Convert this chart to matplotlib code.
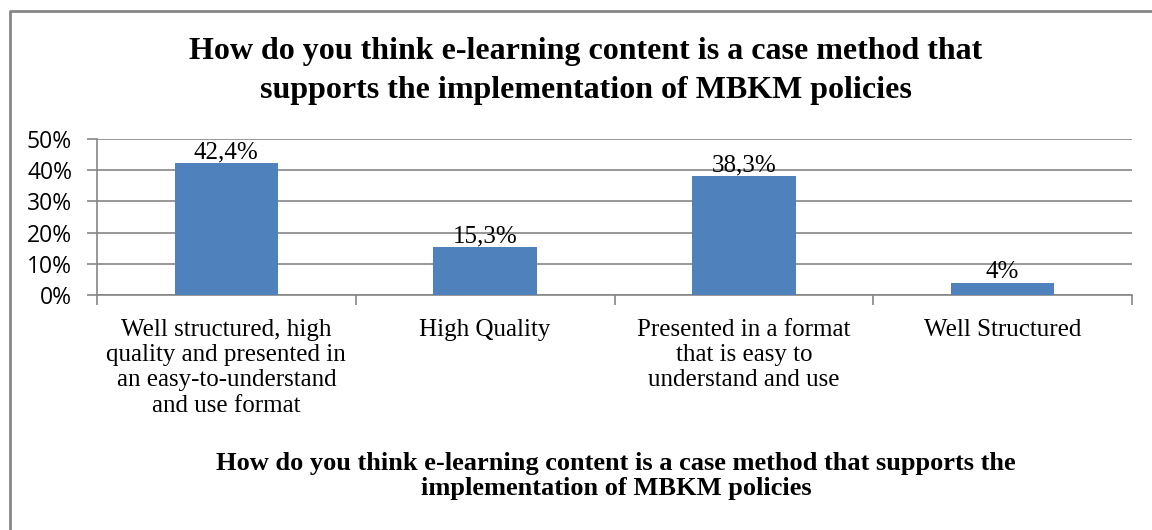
import matplotlib.pyplot as plt
from matplotlib.lines import Line2D

# survey answers and shares
categories = ["Well structured, high\nquality and presented in\nan easy-to-understand\nand use format",
              "High Quality",
              "Presented in a format\nthat is easy to\nunderstand and use",
              "Well Structured"]
values = [0.424, 0.153, 0.383, 0.04]
labels = ["42,4%", "15,3%", "38,3%", "4%"]
yticks = [0, 0.1, 0.2, 0.3, 0.4, 0.5]
yticklabels = ["0%", "10%", "20%", "30%", "40%", "50%"]

title = "How do you think e-learning content is a case method that\nsupports the implementation of MBKM policies"
xtitle = "How do you think e-learning content is a case method that supports the\nimplementation of MBKM policies"

serif = "Liberation Serif"
grey = "#868686"

fig = plt.figure(figsize=(11.52, 5.30), dpi=100)
ax = fig.add_axes([97/1152, 1-295/530, (1132-97)/1152, (295-139)/530])

x = list(range(len(values)))
ax.bar(x, values, width=0.4, color="#4f81bd", zorder=3)
ax.set_xlim(-0.5, len(values)-0.5)
ax.set_ylim(0, 0.5)

for xi, v, lab in zip(x, values, labels):
    ax.text(xi, v-0.002, lab, ha="center", va="bottom", family=serif, fontsize=18)

ax.set_yticks(yticks)
ax.set_yticklabels(yticklabels, family="Open Sans", fontsize=16.5)
ax.yaxis.grid(True, color=grey, linewidth=1.2, zorder=0)
ax.tick_params(axis="y", length=7, width=1.2, color=grey, pad=11)

# category labels between boundary ticks
ax.set_xticks([i-0.5 for i in range(len(values)+1)])
ax.set_xticklabels([])
ax.set_xticks(x, minor=True)
ax.set_xticklabels(categories, minor=True, family=serif, fontsize=18, linespacing=1.2)
ax.tick_params(axis="x", which="major", length=7, width=1.2, color=grey)
ax.tick_params(axis="x", which="minor", length=0, pad=17)

for s in ["top", "right"]:
    ax.spines[s].set_visible(False)
for s in ["left", "bottom"]:
    ax.spines[s].set_color(grey)
    ax.spines[s].set_linewidth(1.2)

fig.text(586/1152, 1-71/530, title, ha="center", va="center", family=serif,
         fontsize=23, fontweight="bold", linespacing=1.45)
fig.text(616/1152, 1-476/530, xtitle, ha="center", va="center", family=serif,
         fontsize=19, fontweight="bold", linespacing=1.15)

# outer chart frame (left and top edges visible)
fig.add_artist(Line2D([9.5/1152, 9.5/1152, 1.0], [0, 1-10.5/530, 1-10.5/530],
                      transform=fig.transFigure, color=grey, linewidth=2))

fig.savefig("out.png", dpi=100)
